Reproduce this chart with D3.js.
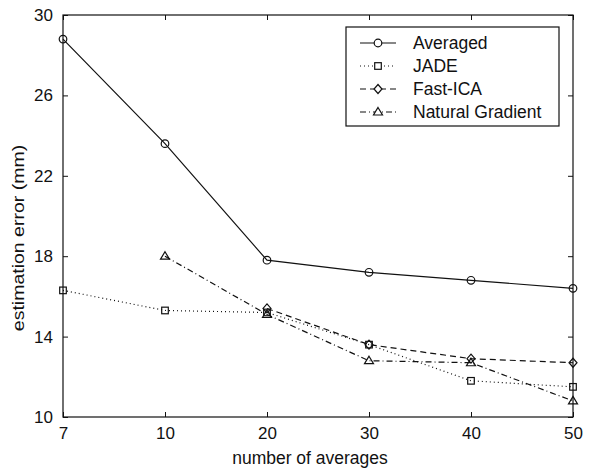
<html>
  <head>
    <script src="https://d3js.org/d3.v7.min.js"></script>
    <style>
      body { margin: 0; background: #fff; }
      text { font-family: "Liberation Sans", Arial, sans-serif; fill: #111; }
    </style>
  </head>
  <body>
    <div id="vis"></div>
  </body>
  <script>
    // Data
    var categories = ["7", "10", "20", "30", "40", "50"];
    var averaged = [28.8, 23.6, 17.8, 17.2, 16.8, 16.4];
    var jade = [16.3, 15.3, 15.2, 13.6, 11.8, 11.5];
    var fastIca = [null, null, 15.4, 13.6, 12.9, 12.7];
    var naturalGradient = [null, 18.0, 15.1, 12.8, 12.7, 10.8];
    var yTicks = [10, 14, 18, 22, 26, 30];

    var series = [
      { name: "Averaged", values: averaged, dash: null, marker: "circle" },
      { name: "JADE", values: jade, dash: "1,3", marker: "square" },
      { name: "Fast-ICA", values: fastIca, dash: "6,4", marker: "diamond" },
      { name: "Natural Gradient", values: naturalGradient, dash: "6,3,1,3", marker: "triangle" }
    ];

    var W = 593, H = 469;
    var margin = { top: 15, right: 20, bottom: 52, left: 63 };
    var width = W - margin.left - margin.right;
    var height = H - margin.top - margin.bottom;

    var svg = d3.select("#vis").append("svg")
      .attr("width", W).attr("height", H)
      .append("g")
      .attr("transform", "translate(" + margin.left + "," + margin.top + ")");

    var x = d3.scalePoint().domain(categories).range([0, width]);
    var y = d3.scaleLinear().domain([10, 30]).range([height, 0]);

    // Axes, ticks pointing inward on all four sides
    var tickLen = 5;
    svg.append("g")
      .attr("transform", "translate(0," + height + ")")
      .call(d3.axisBottom(x).tickSizeInner(-tickLen).tickSizeOuter(0).tickPadding(10))
      .call(function (g) { g.selectAll("text").style("font-size", "17px"); });
    svg.append("g")
      .call(d3.axisTop(x).tickSizeInner(-tickLen).tickSizeOuter(0).tickFormat(""));
    svg.append("g")
      .call(d3.axisLeft(y).tickValues(yTicks).tickSizeInner(-tickLen).tickSizeOuter(0).tickPadding(10))
      .call(function (g) { g.selectAll("text").style("font-size", "17px"); });
    svg.append("g")
      .attr("transform", "translate(" + width + ",0)")
      .call(d3.axisRight(y).tickValues(yTicks).tickSizeInner(-tickLen).tickSizeOuter(0).tickFormat(""));
    svg.selectAll(".domain").remove();
    svg.selectAll(".tick line").attr("stroke", "#111");

    svg.append("rect")
      .attr("width", width).attr("height", height)
      .attr("fill", "none").attr("stroke", "#111").attr("stroke-width", 1.2);

    // Axis labels
    svg.append("text")
      .attr("x", width / 2 - 8).attr("y", height + 47)
      .attr("text-anchor", "middle").style("font-size", "17.5px")
      .text("number of averages");
    svg.append("text")
      .attr("transform", "translate(" + (24 - margin.left) + "," + (238 - margin.top) + ") rotate(-90) scale(1.22,1)")
      .attr("text-anchor", "middle").style("font-size", "16px")
      .text("estimation error (mm)");

    function drawMarker(g, type, cx, cy) {
      if (type === "circle") {
        g.append("circle").attr("cx", cx).attr("cy", cy).attr("r", 3.8);
      } else if (type === "square") {
        g.append("rect").attr("x", cx - 3.3).attr("y", cy - 3.3).attr("width", 6.6).attr("height", 6.6);
      } else if (type === "diamond") {
        g.append("path").attr("d", "M" + cx + "," + (cy - 4.5) + "L" + (cx + 4) + "," + cy + "L" + cx + "," + (cy + 4.5) + "L" + (cx - 4) + "," + cy + "Z");
      } else {
        g.append("path").attr("d", "M" + cx + "," + (cy - 4.5) + "L" + (cx + 4.5) + "," + (cy + 3) + "L" + (cx - 4.5) + "," + (cy + 3) + "Z");
      }
    }

    var line = d3.line()
      .defined(function (d) { return d.v !== null; })
      .x(function (d) { return x(d.c); })
      .y(function (d) { return y(d.v); });

    series.forEach(function (s) {
      var pts = categories.map(function (c, i) { return { c: c, v: s.values[i] }; });
      svg.append("path")
        .datum(pts)
        .attr("d", line)
        .attr("fill", "none")
        .attr("stroke", "#111")
        .attr("stroke-width", 1.2)
        .attr("stroke-dasharray", s.dash);
      var mg = svg.append("g").attr("fill", "none").attr("stroke", "#111").attr("stroke-width", 1.2);
      pts.filter(function (d) { return d.v !== null; }).forEach(function (d) {
        drawMarker(mg, s.marker, x(d.c), y(d.v));
      });
    });

    // Legend
    var lx = 346 - margin.left, ly = 27 - margin.top;
    var legend = svg.append("g").attr("transform", "translate(" + lx + "," + ly + ")");
    legend.append("rect")
      .attr("width", 213).attr("height", 99)
      .attr("fill", "#fff").attr("stroke", "#111").attr("stroke-width", 1.2);
    series.forEach(function (s, i) {
      var ry = 16 + i * 23;
      legend.append("line")
        .attr("x1", 14).attr("x2", 50).attr("y1", ry).attr("y2", ry)
        .attr("stroke", "#111").attr("stroke-width", 1.2)
        .attr("stroke-dasharray", s.dash);
      var mg = legend.append("g").attr("fill", "#fff").attr("stroke", "#111").attr("stroke-width", 1.2);
      drawMarker(mg, s.marker, 32, ry);
      legend.append("text")
        .attr("x", 67).attr("y", ry + 6)
        .style("font-size", "17.5px")
        .text(s.name);
    });
  </script>
</html>
